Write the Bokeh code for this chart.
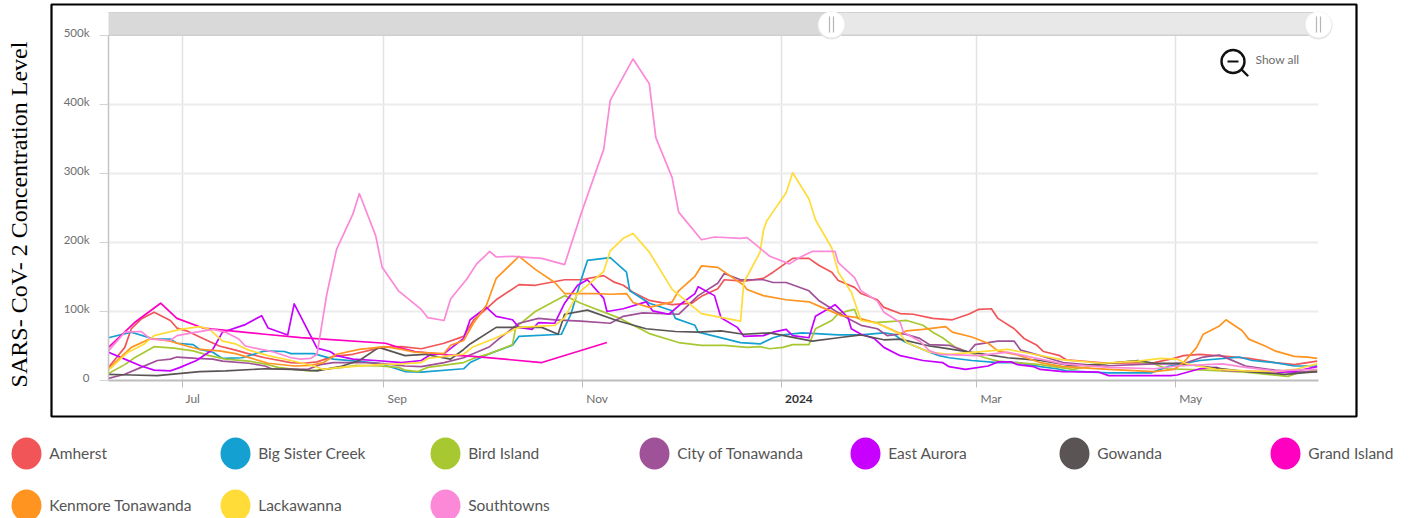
from datetime import datetime, timedelta
import math
from bokeh.plotting import figure
from bokeh.embed import file_html
from bokeh.resources import INLINE
from bokeh.core.properties import value
from bokeh.models import FixedTicker, Range1d

# ---------- data (x = days after the first sample, y = thousands) ----------
first_sample = "2023-06-08T10:30"
last_day = 371.4

series_names = ["Amherst", "Big Sister Creek", "Bird Island", "City of Tonawanda", "East Aurora",
                "Gowanda", "Grand Island", "Kenmore Tonawanda", "Lackawanna", "Southtowns"]
series_colors = ["#f15558", "#14a0d1", "#a8c832", "#9f5298", "#c800ff",
                 "#5a5554", "#ff00c0", "#ff9420", "#ffdc38", "#fc88d8"]

amherst_days = [0,5,7,10,14,19,21,24,28,34,39,42,48,56,60,64,69,75,84,90,96,103,109,112,119,126,131,140,145,152,155,158,161,166,173,179,182,187,189,195,201,204,210,215,218,222,224,229,231,236,238,243,247,253,259,264,267,271,273,278,281,285,287,292,294,307,321,327,330,335,343,350,358,364,371]
amherst_k = [19,48,75,89,99,87,76,72,63,50,44,40,33,26,25,27,35,38,48,49,46,54,64,87,117,139,138,146,146,152,143,138,128,116,110,112,122,133,146,144,148,157,177,177,167,157,145,135,126,117,106,97,96,90,88,96,103,104,90,75,61,51,42,36,30,25,26,32,36,38,35,32,26,23,28]

big_sister_days = [0,7,14,19,21,26,28,32,35,41,48,54,56,63,69,76,83,91,96,109,111,117,124,126,139,142,145,147,154,159,160,166,173,174,180,181,194,200,204,207,213,224,231,238,241,244,252,255,258,265,273,279,286,291,294,307,320,325,335,347,351,358,364,371]
big_sister_k = [62,70,60,60,54,52,45,41,32,33,43,42,39,39,31,28,25,13,12,17,26,39,51,64,67,97,145,174,178,157,130,112,101,90,80,70,55,53,62,66,69,66,66,69,67,57,41,36,33,29,26,26,20,17,14,11,11,20,29,34,29,26,21,21]

bird_days = [0,5,8,14,20,26,31,36,43,48,52,57,62,66,72,76,83,89,91,95,98,109,112,117,124,125,131,140,145,157,166,175,182,189,196,200,203,207,210,215,217,222,224,227,229,230,235,242,245,250,253,256,260,264,269,273,286,296,307,315,321,325,337,349,362,365,371]
bird_k = [10,23,33,49,47,43,36,31,28,24,19,16,14,16,19,22,21,19,15,13,19,26,32,39,52,77,100,123,112,90,68,55,51,51,48,49,46,48,52,52,75,87,97,101,103,90,84,86,87,80,70,62,48,41,33,28,23,16,25,28,24,17,15,12,6,11,15]

tonawanda_days = [0,5,10,15,19,21,27,32,35,43,48,50,61,65,69,79,85,91,96,103,109,113,117,120,126,132,137,145,154,158,164,175,181,187,189,194,201,204,208,215,218,223,227,231,236,239,244,249,252,258,264,266,270,273,278,280,286,293,305,321,327,331,336,341,344,349,358,364,371]
tonawanda_k = [3,9,19,29,31,34,32,31,28,25,21,17,16,23,26,26,24,21,20,26,33,41,49,61,83,90,88,86,83,93,98,96,123,141,155,146,146,142,142,130,116,101,90,80,75,65,68,61,52,51,41,52,55,57,57,44,36,26,21,24,24,26,34,37,31,21,15,12,13]

aurora_days = [0,5,10,14,19,22,27,32,35,42,47,49,55,57,64,68,70,75,82,90,96,99,103,109,111,116,119,124,126,130,132,137,140,144,147,152,153,158,165,167,172,176,180,181,186,188,193,195,201,204,208,210,215,217,222,223,227,228,231,235,238,243,250,256,258,263,270,273,277,279,284,286,293,304,307,326,328,335,340,342,352,360,364,371]
aurora_k = [41,31,21,15,14,19,29,45,70,81,94,76,66,111,47,42,36,31,29,26,29,38,39,61,88,106,93,88,77,74,84,83,112,138,146,119,100,104,114,101,96,112,126,136,123,91,77,64,65,70,74,65,62,93,107,110,91,75,67,61,48,36,29,26,20,16,21,27,27,23,20,16,13,12,7,7,8,17,19,15,13,12,13,20]

gowanda_days = [0,7,15,28,36,48,56,64,71,77,83,91,97,105,109,111,119,133,138,140,147,156,165,174,181,188,195,203,216,224,231,238,243,252,255,262,276,286,296,305,316,321,328,335,347,361,371]
gowanda_k = [9,8,7,13,14,17,16,14,20,29,48,36,38,31,45,53,77,77,67,96,102,87,75,71,70,72,67,69,57,62,66,59,60,50,48,43,33,29,21,24,29,25,25,21,14,9,13]

grand_island_days = [0,8,16,21,29,33,48,59,85,89,94,104,112,133,153]
grand_island_k = [48,84,112,90,76,74,67,62,54,48,42,37,35,26,55]

kenmore_days = [0,7,13,19,24,28,34,39,44,49,57,62,66,70,77,85,90,94,103,105,109,112,116,119,126,131,137,140,150,154,159,161,166,173,175,180,182,187,195,196,201,208,215,219,225,230,236,243,245,250,257,259,265,270,273,279,286,293,307,321,327,330,334,336,341,343,348,350,355,358,364,368,371]
kenmore_k = [17,48,61,57,50,45,43,39,32,25,21,22,26,38,45,49,45,41,39,51,58,83,109,148,180,161,142,126,126,125,126,113,106,114,130,151,166,164,138,132,123,117,114,106,94,91,83,68,72,74,78,70,63,54,43,37,26,20,16,13,16,26,48,67,79,88,72,60,50,43,35,34,32]

lackawanna_days = [0,6,11,14,22,28,31,35,39,43,49,56,63,66,71,83,90,96,98,109,112,119,126,137,140,144,152,154,158,161,166,173,182,194,195,200,201,202,208,210,215,217,222,224,228,231,236,243,245,252,258,266,276,284,293,305,316,323,328,331,340,349,358,364,371]
lackawanna_k = [15,41,53,65,74,78,74,57,53,44,36,29,21,16,19,23,24,26,32,38,49,62,77,80,91,126,158,188,206,213,186,132,97,86,142,186,217,231,272,301,263,233,192,157,128,87,83,67,55,41,38,41,45,38,30,25,28,32,31,24,16,14,13,16,24]

southtowns_days = [0,5,10,13,19,21,27,32,36,40,42,48,51,56,59,62,64,67,70,75,77,82,84,89,96,98,103,105,110,113,117,119,124,133,140,145,152,154,161,166,168,173,175,182,186,194,196,203,209,212,216,223,224,229,231,236,238,243,244,249,252,255,267,276,286,293,307,321,328,342,349,358,371]
southtowns_k = [43,70,71,60,58,65,70,74,70,60,50,44,41,33,31,32,38,125,190,241,271,210,164,130,103,91,87,118,147,169,187,179,180,177,168,241,335,406,466,430,352,294,244,204,208,206,207,180,169,178,187,187,171,149,130,115,99,84,70,57,43,38,36,41,31,24,19,17,21,24,19,14,16]

series_days = [amherst_days, big_sister_days, bird_days, tonawanda_days, aurora_days,
               gowanda_days, grand_island_days, kenmore_days, lackawanna_days, southtowns_days]
series_k = [amherst_k, big_sister_k, bird_k, tonawanda_k, aurora_k,
            gowanda_k, grand_island_k, kenmore_k, lackawanna_k, southtowns_k]

y_tick_values = [0, 100000, 200000, 300000, 400000, 500000]
y_tick_labels = ["0", "100k", "200k", "300k", "400k", "500k"]
month_dates = ["2023-07-01", "2023-09-01", "2023-11-01", "2024-01-01", "2024-03-01", "2024-05-01"]
month_labels = ["Jul", "Sep", "Nov", "2024", "Mar", "May"]
axis_title = "SARS- CoV- 2 Concentration Level"

# ---------- layout (pixels of the page) ----------
W, H = 1412, 518
F_L, F_R, F_T, F_B = 108, 1318, 35, 380
PAGE = {"position": "absolute", "left": "0px", "top": "0px"}

def ms(dt):
    return (dt - datetime(1970, 1, 1)).total_seconds() * 1000.0

t0 = datetime.fromisoformat(first_sample)
x0 = ms(t0)
x1 = ms(t0 + timedelta(days=last_day))
month_ms = [ms(datetime.fromisoformat(d)) for d in month_dates]

# ---------- backdrop: frame, navigator, icon, legend, free texts ----------
d = figure(width=W, height=H, output_backend="svg", toolbar_location=None,
           x_range=Range1d(0, W), y_range=Range1d(H, 0),
           x_axis_location=None, y_axis_location=None,
           min_border=0, outline_line_color=None,
           background_fill_color="white", border_fill_color="white")
d.styles = PAGE
d.grid.visible = False

def rect(l, r, t, b, **kw):
    d.quad(left=[l], right=[r], top=[t], bottom=[b], **kw)

def txt(x, y, s, size, color="#6e6e6e", font="Lato", style="normal", align="left", angle=0.0):
    d.text(x=[x], y=[y], text=[s], text_font=value(font), text_font_size=size, text_color=color,
           text_font_style=style, text_align=align, text_baseline="middle", angle=angle)

rect(108, 831, 12, 35, fill_color="#d9d9d9", line_color=None)
rect(831, 1318, 12, 35, fill_color="#e8e8e8", line_color=None)
rect(108, 1318, 11.5, 12.5, fill_color="#d2d2d2", line_color=None)
rect(108, 1318, 34, 35.5, fill_color="#cfcfcf", line_color=None)
for hx in (831, 1318):
    d.ellipse(x=[hx], y=[25], width=28, height=28, fill_color="#e6e6e6", line_color=None)
    d.ellipse(x=[hx], y=[24], width=26, height=26, fill_color="#ffffff", line_color=None)
    rect(hx - 2.6, hx - 1.4, 16, 32, fill_color="#b5b5b5", line_color=None)
    rect(hx + 1.4, hx + 2.6, 16, 32, fill_color="#b5b5b5", line_color=None)

rect(51, 1356, 4, 416, fill_alpha=0, line_color="#000000", line_width=2.2)

d.ellipse(x=[1232.5], y=[61], width=23, height=23, fill_alpha=0, line_color="#111111", line_width=2.4)
d.segment([1227], [61], [1238], [61], line_color="#111111", line_width=2.2)
d.segment([1241], [69], [1247], [75], line_color="#111111", line_width=2.4, line_cap="round")
txt(1255, 59, "Show all", "12px")

txt(18.5, 214, axis_title, "24px", color="#000000", font="Liberation Serif", align="center", angle=math.pi / 2)

for m, lab in zip(month_ms, month_labels):
    bold = lab == "2024"
    px = F_L + (m - x0) / (x1 - x0) * (F_R - F_L)
    txt(px + 3.5, 398, lab, "12px", color="#333333" if bold else "#6e6e6e", style="bold" if bold else "normal")

# y tick labels sit a little above their ticks in the original
for v, lab in zip(y_tick_values, y_tick_labels):
    py = F_B - v / 500000.0 * (F_B - F_T)
    txt(89, py - 2.8, lab, "11.5px", align="right")

legend_x = [26, 235, 445, 654, 865, 1074, 1285, 26, 235, 445]
legend_y = [453, 453, 453, 453, 453, 453, 453, 505, 505, 505]
for name, color, lx, ly in zip(series_names, series_colors, legend_x, legend_y):
    d.ellipse(x=[lx], y=[ly], width=30, height=32, fill_color=color, line_color=None)
    txt(lx + 22.7, ly - 1, name, "15.5px", color="#555555")

# ---------- the chart ----------
p = figure(width=W, height=H, output_backend="svg", toolbar_location=None,
           x_axis_type="datetime",
           x_range=Range1d(x0, x1), y_range=Range1d(0, 500000),
           min_border_left=F_L, min_border_right=W - F_R,
           min_border_top=F_T, min_border_bottom=H - F_B,
           background_fill_color=None, border_fill_color=None,
           outline_line_color=None)
p.styles = PAGE

p.xaxis.ticker = FixedTicker(ticks=month_ms)
p.xaxis.major_label_overrides = {m: "" for m in month_ms}
p.xaxis.axis_line_color = "#bdbdbd"
p.xaxis.axis_line_width = 2
p.xaxis.major_tick_line_color = "#bdbdbd"
p.xaxis.major_tick_line_width = 1
p.xaxis.major_tick_out = 7
p.xaxis.major_tick_in = 0
p.xaxis.minor_tick_line_color = None

p.yaxis.ticker = FixedTicker(ticks=y_tick_values)
p.yaxis.major_label_overrides = {v: "" for v in y_tick_values}
p.yaxis.axis_line_color = "#c4c4c4"
p.yaxis.axis_line_width = 1.5
p.yaxis.major_tick_line_color = "#d4d4d4"
p.yaxis.major_tick_out = 9
p.yaxis.major_tick_in = 0
p.yaxis.minor_tick_line_color = None

p.xgrid.grid_line_color = "#e2e2e2"
p.xgrid.grid_line_width = 1.5
p.ygrid.grid_line_color = "#ececec"
p.ygrid.grid_line_width = 2

for name, color, days, k in zip(series_names, series_colors, series_days, series_k):
    assert len(days) == len(k), name
    xs = [x0 + n * 86400000.0 for n in days]
    ys = [v * 1000.0 for v in k]
    p.line(xs, ys, line_color=color, line_width=1.7, line_join="round")

open("out.html", "w").write(file_html([d, p], INLINE))
